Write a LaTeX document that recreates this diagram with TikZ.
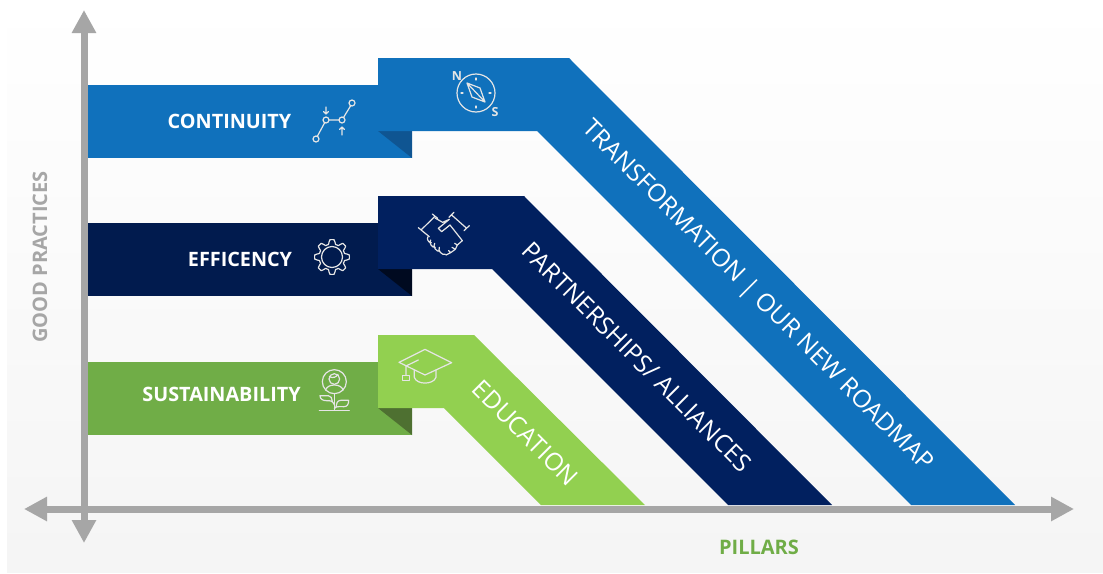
\documentclass[tikz,border=0pt]{standalone}
\usepackage{fontspec}
\setmainfont{Open Sans}
\usetikzlibrary{arrows.meta}
\definecolor{bluetop}{HTML}{1071BC}
\definecolor{bluelow}{HTML}{1071BC}
\definecolor{bluefold}{HTML}{0F5592}
\definecolor{navytop}{HTML}{01205F}
\definecolor{navylow}{HTML}{011B4E}
\definecolor{navyfold}{HTML}{000A20}
\definecolor{greentop}{HTML}{92D050}
\definecolor{greenlow}{HTML}{70AD47}
\definecolor{greenfold}{HTML}{4E7031}
\definecolor{axisgray}{HTML}{A6A6A6}
\tikzset{
	axisline/.style={draw=axisgray, line width=7pt, -{Triangle[length=23pt, width=23pt]}},
	bandlabel/.style={text=white, font=\fontsize{19.8}{20}\selectfont\bfseries},
	pillarlabel/.style={text=white, font=\fontsize{24.6}{25}\selectfont, rotate=-45},
	axislabel/.style={font=\fontsize{20}{21}\selectfont\bfseries},
	iconline/.style={draw=white!90!black, line width=1.2pt, line cap=round, line join=round}}

\begin{document}
\begin{tikzpicture}[x=1pt, y=-1pt]
		\useasboundingbox (0,0) rectangle (1103,573);
		\shade[top color=white, bottom color=white!96!black] (7,0) rectangle (1103,572);

		% lower bands and folds
		\fill[bluelow] (88,85) rectangle (412,158);
		\fill[bluefold] (378,131) -- (412,131) -- (412,158) -- cycle;
		\fill[navylow] (88,223) rectangle (412,296);
		\fill[navyfold] (378,269) -- (412,269) -- (412,296) -- cycle;
		\fill[greenlow] (88,362) rectangle (412,435);
		\fill[greenfold] (378,408) -- (412,408) -- (412,435) -- cycle;

		% upper bands
		\fill[bluetop] (378,58) -- (569,58) -- (1015,505) -- (911,505) -- (537,131) -- (378,131) -- cycle;
		\fill[navytop] (378,196) -- (524,196) -- (832,505) -- (728,505) -- (492,269) -- (378,269) -- cycle;
		\fill[greentop] (378,335) -- (474,335) -- (645,505) -- (541,505) -- (444,408) -- (378,408) -- cycle;

		% axes
		\coordinate (origin) at (84,509);
		\coordinate (ytop) at (84,10);
		\coordinate (ybottom) at (84,543);
		\coordinate (xleft) at (24,509);
		\coordinate (xright) at (1074,509);
		\draw[axisline] (origin) -- (ytop);
		\draw[axisline] (origin) -- (xright);
		\draw[axisline] (origin) -- (xleft);
		\draw[axisline] (origin) -- (ybottom);

		\node[bandlabel] (continuity) at (229.5,121) {CONTINUITY};
		\node[bandlabel] (efficency) at (240,259) {EFFICENCY};
		\node[bandlabel] (sustainability) at (221.5,394) {SUSTAINABILITY};
		\node[pillarlabel] (transformation) at (757,296.5) {TRANSFORMATION | OUR NEW ROADMAP};
		\node[pillarlabel] (partnerships) at (637,357) {PARTNERSHIPS/ ALLIANCES};
		\node[pillarlabel] (education) at (525.5,433) {EDUCATION};
		\node[axislabel, text=axisgray, rotate=90] (practices) at (40,257) {GOOD PRACTICES};
		\node[axislabel, text=greenlow] (pillars) at (759,547) {PILLARS};

		% route icon
		\draw[iconline] (316,139) circle (3) (326,120) circle (3) (342,120) circle (3) (352,103) circle (3);
		\draw[iconline] (317.5,136) -- (324.5,123) (329,120) -- (339,120) (343.5,117.5) -- (350.5,106);
		\draw[iconline] (326,107) -- (326,114) (323.5,111.5) -- (326,114) -- (328.5,111.5);
		\draw[iconline] (342,135) -- (342,127) (339.5,129.5) -- (342,127) -- (344.5,129.5);

		% compass icon
		\draw[iconline] (476,93) circle (19);
		\draw[iconline] (467,83) -- (480,88) -- (485,102) -- (472,97) -- cycle (467,83) -- (485,102);
		\draw[iconline] (476,78) -- (476,80) (476,106) -- (476,108) (461,93) -- (463,93) (489,93) -- (491,93);
		\node[text=white!90!black, font=\fontsize{12.5}{13}\selectfont\bfseries] (north) at (457,76) {N};
		\node[text=white!90!black, font=\fontsize{12.5}{13}\selectfont\bfseries] (south) at (495,112) {S};

		% gear icon
		\draw[iconline] (332,257) circle (10.5);
		\draw[iconline, shift={(332,257)}] plot[domain=0:360, samples=161, smooth] (\x:{15.2+2.2*max(min(1.7*cos(8*\x),1),-1)}) -- cycle;

		% handshake icon
		\begin{scope}[shift={(300,190)}, scale=1/3]
			\draw[iconline] (397,72) -- (413,85) (355,113) -- (372,127) (363,120) -- (405,79);
			\draw[iconline] (462,67) -- (447,82) (508,107) -- (492,122) (455,75) -- (500,115);
			\draw[iconline] (405,84) -- (428,97) -- (448,88) -- (415,115) -- (425,125) -- (450,105) -- (487,152);
			\draw[iconline] (372,127) -- (388,140);
			\draw[iconline] (384,140) to[bend right=70] (394,158) (392,150) to[bend right=70] (406,172) (404,160) to[bend right=70] (420,184) (418,172) to[bend right=70] (436,193);
			\draw[iconline] (487,152) -- (472,165) -- (464,160) (472,165) -- (466,178) -- (456,172) (466,178) -- (452,188) -- (446,182) (452,188) -- (438,195);
		\end{scope}

		% graduation cap icon
		\begin{scope}[shift={(300,330)}, scale=1/3]
			\draw[iconline] (297,97) -- (375,58) -- (455,98) -- (375,135) -- cycle;
			\draw[iconline] (355,90) -- (318,108) -- (318,135);
			\draw[iconline] (308,152) rectangle (328,137);
			\draw[iconline] (343,120) -- (343,142) .. controls (350,165) and (400,165) .. (408,142) -- (408,120);
		\end{scope}

		% plant icon
		\begin{scope}[shift={(300,330)}, scale=1/3]
			\draw[iconline] (103,155) circle (36);
			\draw[iconline] (103,147) circle (16);
			\draw[iconline] (88,140) .. controls (100,145) and (108,142) .. (114,133);
			\draw[iconline] (77,180) .. controls (82,160) and (124,160) .. (129,180);
			\draw[iconline] (103,191) -- (103,241) (58,241) -- (148,241);
			\draw[iconline] (103,224) .. controls (97,212) and (92,212) .. (80,212) .. controls (68,212) and (60,207) .. (60,197) -- (85,197) .. controls (92,197) and (97,205) .. (97,214);
			\draw[iconline] (103,236) .. controls (108,228) and (118,230) .. (132,230) .. controls (142,230) and (146,222) .. (146,211) -- (122,211) .. controls (112,211) and (108,222) .. (108,230);
		\end{scope}
	\end{tikzpicture}
\end{document}
